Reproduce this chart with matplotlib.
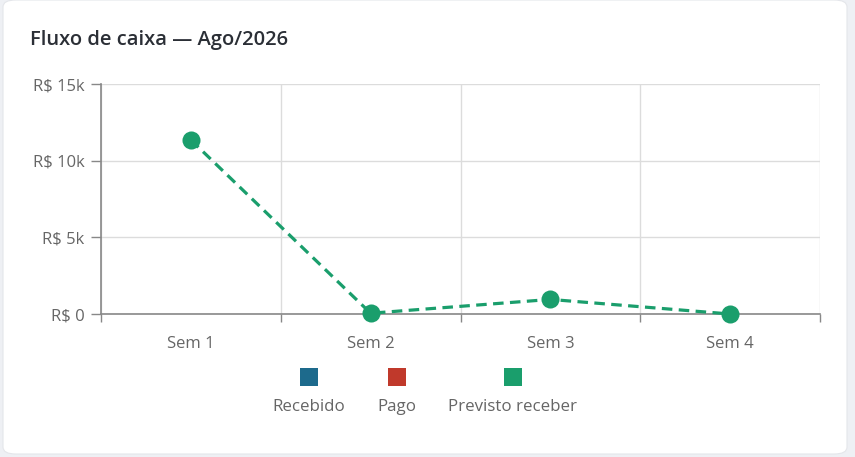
import matplotlib
matplotlib.use("Agg")
import matplotlib.pyplot as plt
from matplotlib.patches import FancyBboxPatch, Rectangle
from matplotlib.ticker import FuncFormatter, FixedLocator

# ---- data ----
title = "Fluxo de caixa — Ago/2026"
categories = ["Sem 1", "Sem 2", "Sem 3", "Sem 4"]
previsto_receber = [11350, 50, 950, 0]
series_names = ["Recebido", "Pago", "Previsto receber"]
series_colors = ["#1d6a8c", "#c0392b", "#1a9e6c"]
y_ticks = [0, 5000, 10000, 15000]

W, H = 855, 457
fig = plt.figure(figsize=(W / 100, H / 100), dpi=100)
fig.patch.set_facecolor("#eef0f4")

# card
card = FancyBboxPatch((3 / W, 3 / H), 844 / W, 454 / H,
                      boxstyle="round,pad=0,rounding_size=0.015",
                      transform=fig.transFigure, facecolor="white",
                      edgecolor="#e4e6ea", linewidth=0.8, zorder=-10)
fig.patches.append(card)

FAM = ["Open Sans", "DejaVu Sans"]
fig.text(30 / W, 1 - 40 / H, title, fontsize=14.5, fontweight="semibold",
         color="#2b2f36", family=FAM, va="center", ha="left", zorder=5)

ax = fig.add_axes([101 / W, 1 - 314 / H, 719 / W, 230 / H])
ax.set_zorder(2)
ax.set_facecolor("none")
x = list(range(len(categories)))
ax.plot(x, previsto_receber, color=series_colors[2], linewidth=2.3,
        linestyle=(0, (3.3, 2.0)), marker="o", markersize=13,
        markeredgewidth=0, zorder=3, clip_on=False)

ax.set_xlim(-0.5, len(categories) - 0.5)
ax.set_ylim(0, 15000)

edges = [i - 0.5 for i in range(len(categories) + 1)]
ax.xaxis.set_major_locator(FixedLocator(x))
ax.set_xticklabels(categories)
ax.xaxis.set_minor_locator(FixedLocator(edges))
ax.tick_params(axis="x", which="major", length=0, pad=16, labelsize=12, labelcolor="#666666")
ax.tick_params(axis="x", which="minor", length=6, width=1, color="#888888", direction="out")
ax.set_yticks(y_ticks)
ax.yaxis.set_major_formatter(FuncFormatter(lambda v, p: "R$ 0" if v == 0 else f"R$ {int(v/1000)}k"))
ax.tick_params(axis="y", length=7, width=1, color="#888888", pad=5, labelsize=12, labelcolor="#666666")
for lab in ax.get_xticklabels() + ax.get_yticklabels():
    lab.set_family(FAM)

ax.grid(True, which="minor", axis="x", color="#dcdcdc", linewidth=1)
ax.grid(True, which="major", axis="y", color="#dcdcdc", linewidth=1)
ax.set_axisbelow(True)
for s in ["top", "right"]:
    ax.spines[s].set_visible(False)
for s in ["left", "bottom"]:
    ax.spines[s].set_color("#888888")
    ax.spines[s].set_linewidth(1.2)

# legend: icon above text
leg_x = [309, 397, 513]
for name, col, lx in zip(series_names, series_colors, leg_x):
    r = Rectangle(((lx - 9) / W, 1 - 386 / H), 18 / W, 18 / H,
                  transform=fig.transFigure, facecolor=col, edgecolor="none", zorder=5)
    fig.patches.append(r)
    fig.text(lx / W, 1 - 407 / H, name, ha="center", va="center", fontsize=12.2,
             color="#666666", family=FAM, zorder=5)

fig.savefig("out.png", dpi=100, facecolor=fig.get_facecolor())
